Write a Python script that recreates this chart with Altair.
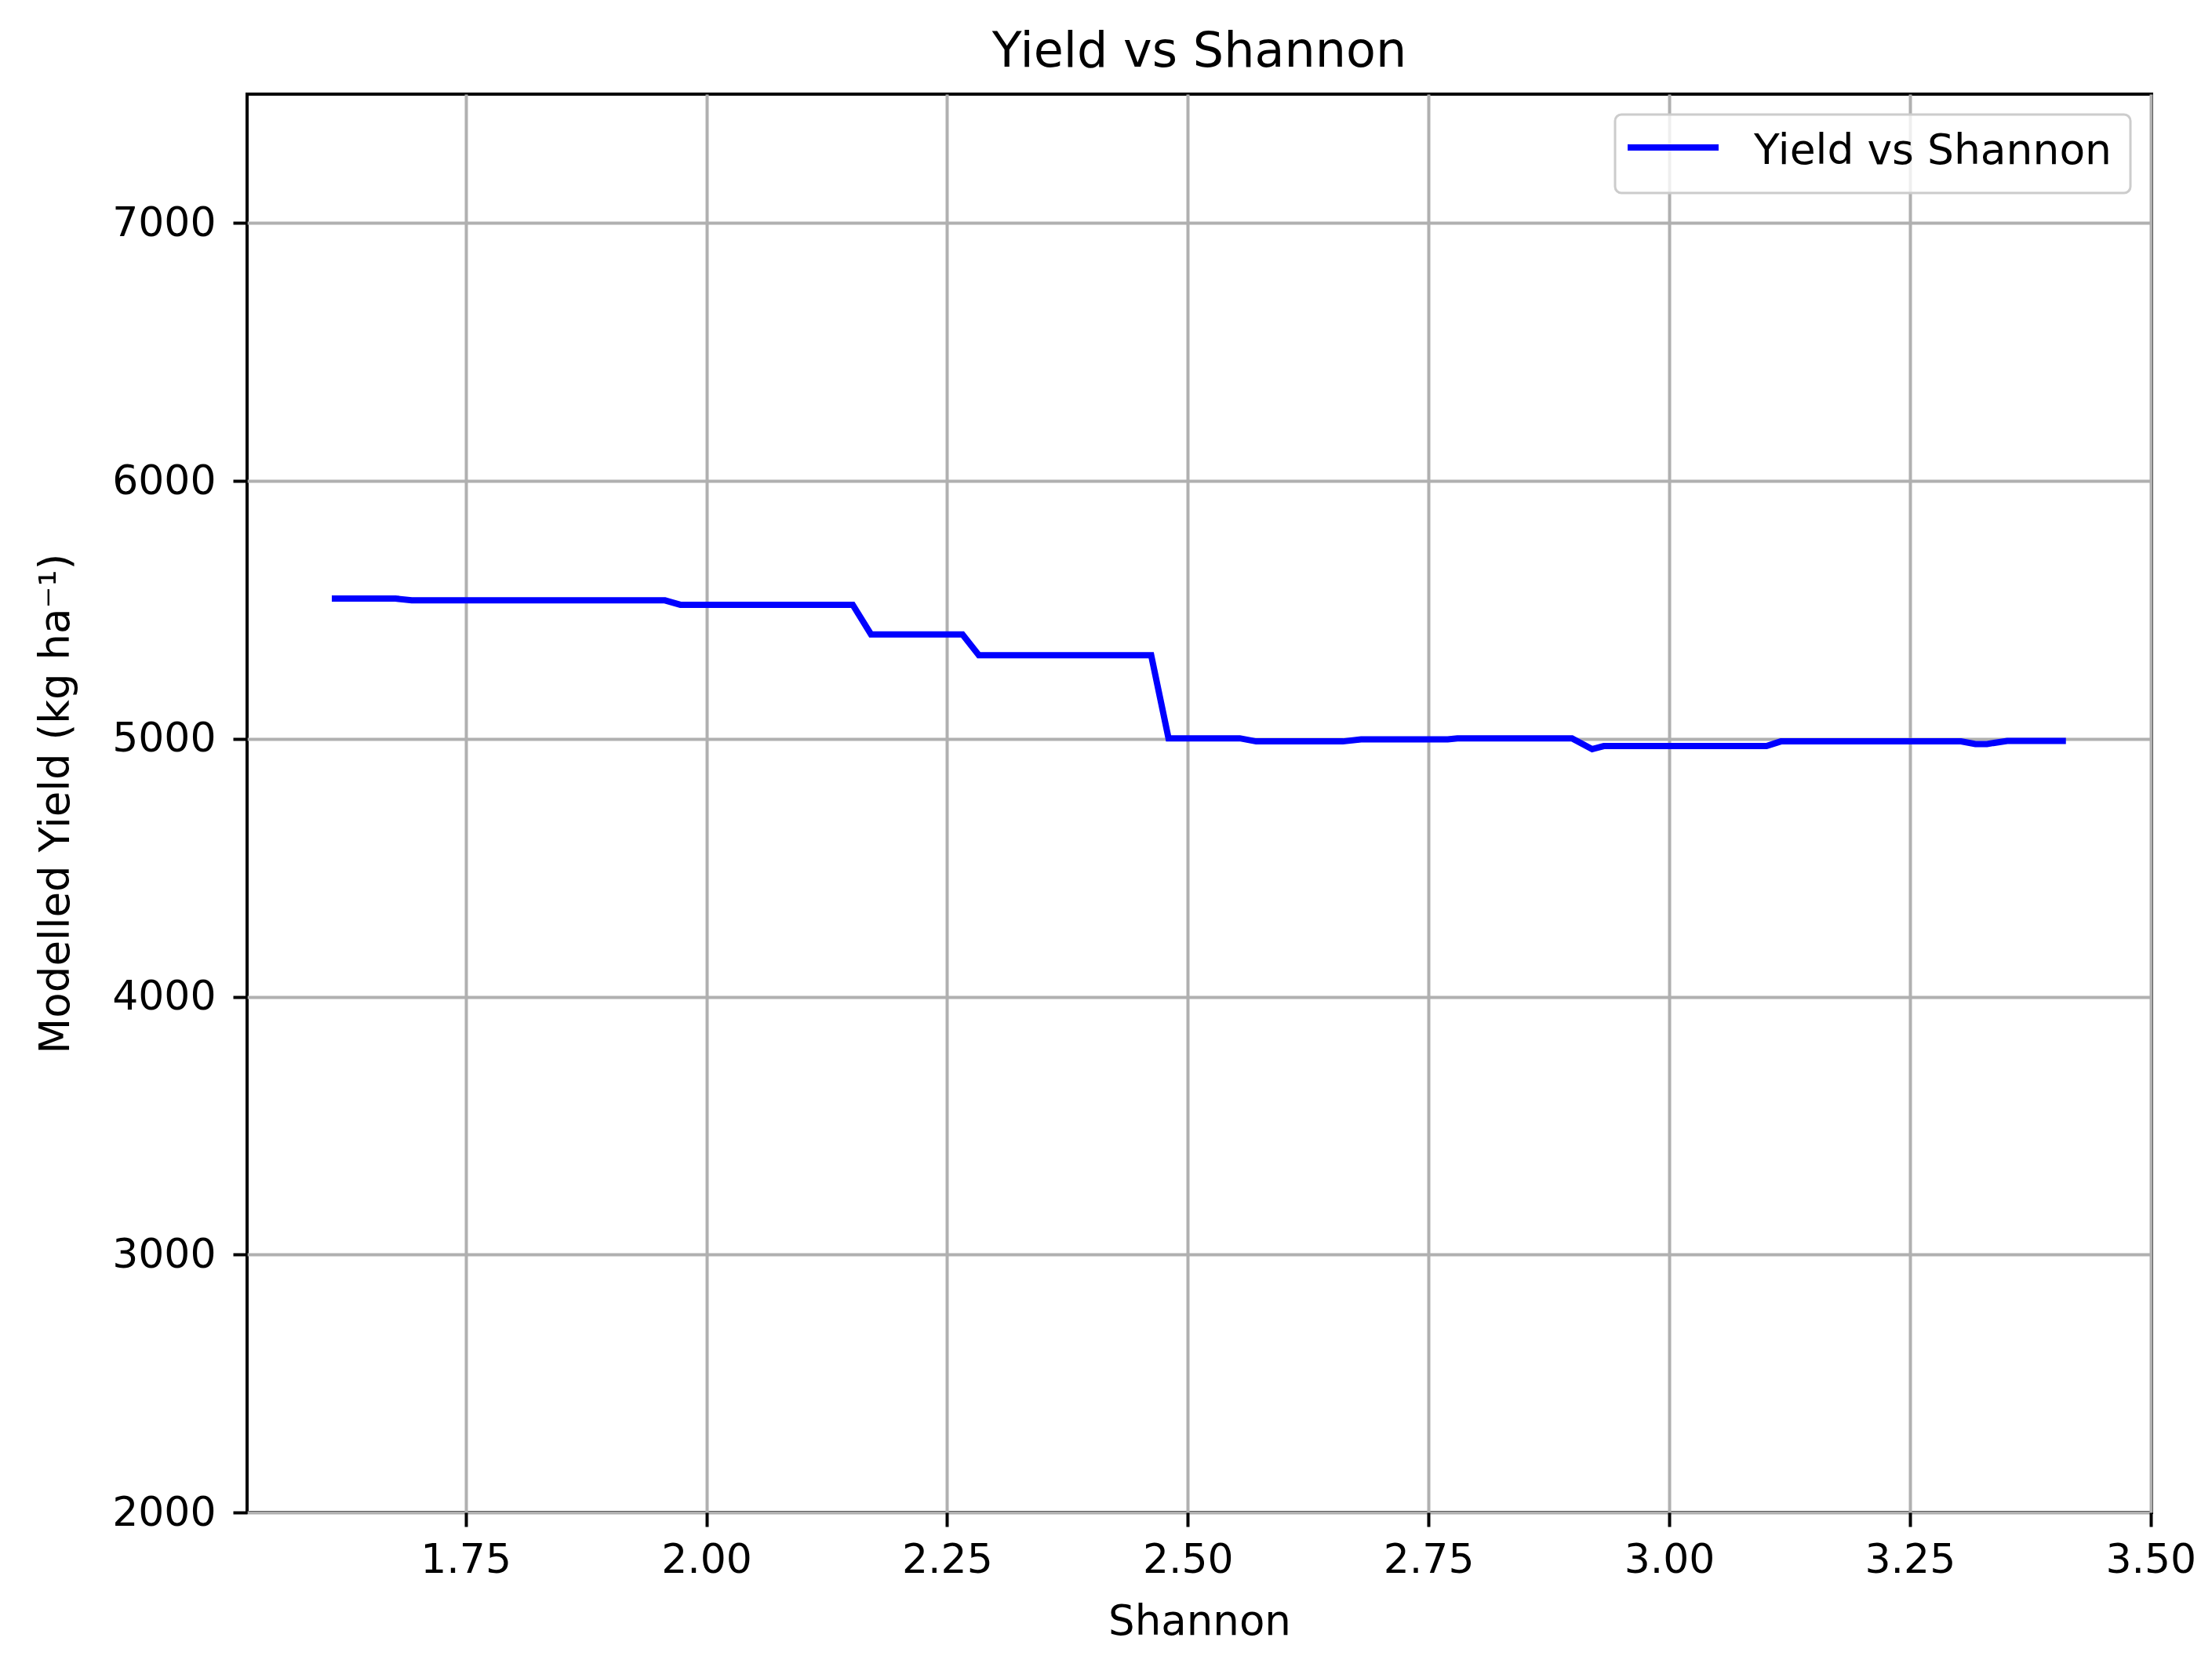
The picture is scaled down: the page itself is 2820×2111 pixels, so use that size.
import altair as alt
import pandas as pd

# Breakpoints
shannon = [1.611, 1.677, 1.694, 1.957, 1.973, 2.152, 2.171, 2.266, 2.283,
           2.462, 2.480, 2.554, 2.571, 2.661, 2.680, 2.770, 2.780, 2.899,
           2.920, 2.932, 3.101, 3.116, 3.303, 3.318, 3.330, 3.351, 3.412]
yield_kg = [5544, 5544, 5537, 5537, 5520, 5520, 5405, 5405, 5324,
            5324, 5002, 5002, 4990, 4990, 4998, 4998, 5002, 5002,
            4960, 4972, 4972, 4990, 4990, 4980, 4980, 4992, 4992]
series_name = "Yield vs Shannon"
x_ticks = [1.75, 2.00, 2.25, 2.50, 2.75, 3.00, 3.25, 3.50]
y_ticks = [2000, 3000, 4000, 5000, 6000, 7000]

df = pd.DataFrame({"Shannon": shannon, "Yield": yield_kg})
legend_df = pd.DataFrame({"label": [series_name]})

FONT = "DejaVu Sans"
BLUE = "#0000ff"

line = alt.Chart(df).mark_line(strokeWidth=8, color=BLUE).encode(
    x=alt.X("Shannon:Q",
            scale=alt.Scale(domain=[1.523, 3.501], nice=False, zero=False),
            axis=alt.Axis(values=x_ticks, format=".2f", title="Shannon",
                          labelPadding=17, titlePadding=27)),
    y=alt.Y("Yield:Q",
            scale=alt.Scale(domain=[2000, 7500], nice=False, zero=False),
            axis=alt.Axis(values=y_ticks, format="d",
                          title="Modelled Yield (kg ha⁻¹)",
                          labelPadding=22, titlePadding=44)),
)

# legend (upper right, matplotlib style)
legend_box = alt.Chart(legend_df).mark_rect(
    fill="white", fillOpacity=0.8, stroke="#cccccc", strokeWidth=3,
    cornerRadius=8
).encode(x=alt.value(1744), x2=alt.value(2401),
         y=alt.value(26), y2=alt.value(126))

legend_sym = alt.Chart(legend_df).mark_rule(
    color=BLUE, strokeWidth=8
).encode(x=alt.value(1760), x2=alt.value(1876), y=alt.value(68))

legend_txt = alt.Chart(legend_df).mark_text(
    align="left", baseline="alphabetic", fontSize=53.5, font=FONT,
    color="#000000"
).encode(x=alt.value(1921), y=alt.value(89), text="label:N")

chart = alt.layer(line, legend_box, legend_sym, legend_txt).properties(
    width=2428, height=1808,
    title=alt.TitleParams("Yield vs Shannon", fontSize=62, font=FONT,
                          fontWeight="normal", color="#000000",
                          anchor="middle", offset=22),
    autosize=alt.AutoSizeParams(type="none"),
    padding={"left": 307, "top": 112, "right": 60, "bottom": 180},
).configure_axis(
    grid=True, gridColor="#b0b0b0", gridWidth=4,
    domain=False,
    ticks=True, tickColor="#000000", tickWidth=4, tickSize=18,
    labelFont=FONT, labelFontSize=52, labelColor="#000000",
    titleFont=FONT, titleFontSize=53, titleColor="#000000",
    titleFontWeight="normal",
).configure_view(
    stroke="#000000", strokeWidth=4
)

chart.save("out.html", embed_options={"renderer": "svg", "actions": False})
